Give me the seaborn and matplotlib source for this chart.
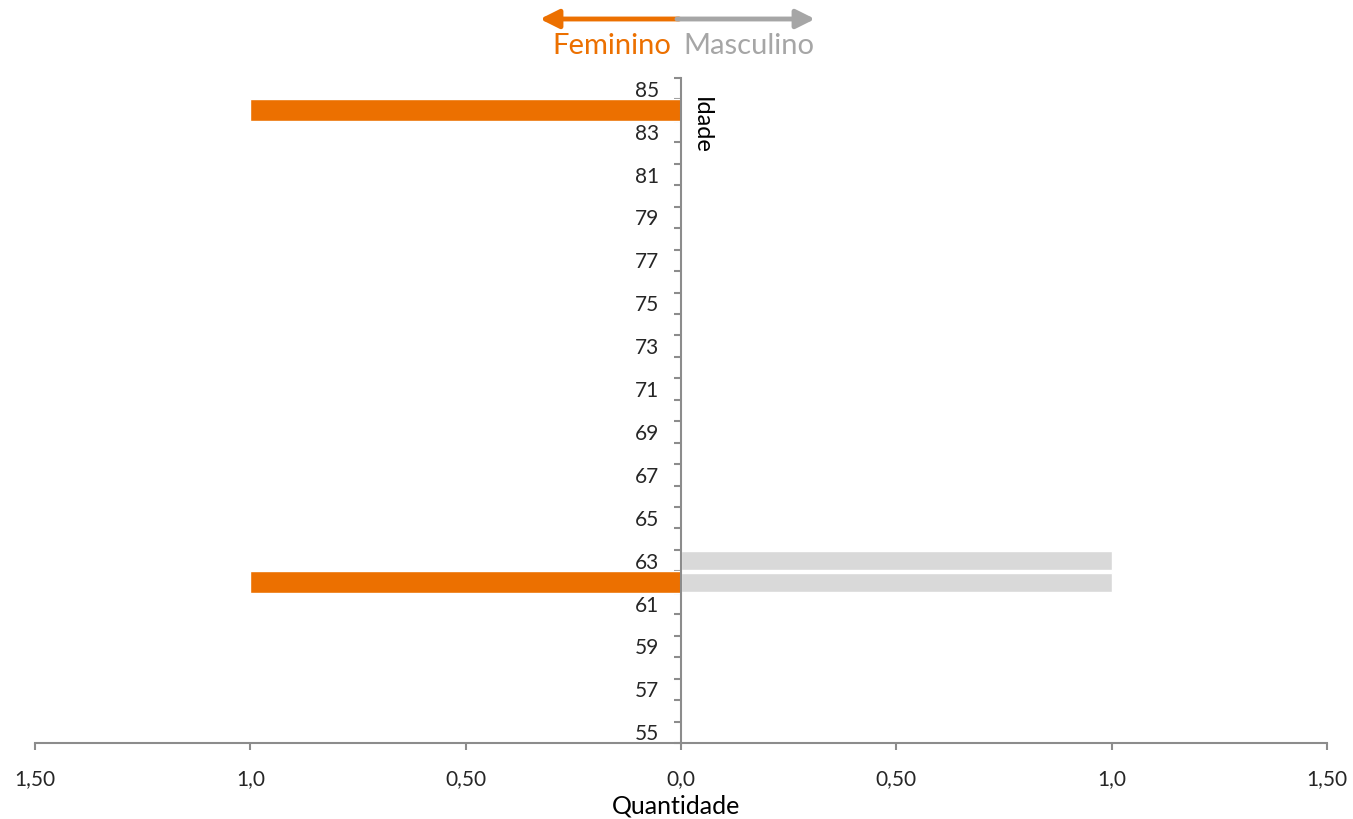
import matplotlib
matplotlib.use('Agg')
import matplotlib.pyplot as plt
import seaborn as sns
import numpy as np
from matplotlib.ticker import FixedLocator, FixedFormatter

# Data
idade = list(range(55, 86))
feminino = [0, 0, 0, 0, 0, 0, 0, 1, 0, 0, 0, 0, 0, 0, 0, 0,
            0, 0, 0, 0, 0, 0, 0, 0, 0, 0, 0, 0, 0, 1, 0]
masculino = [0, 0, 0, 0, 0, 0, 0, 1, 1, 0, 0, 0, 0, 0, 0, 0,
             0, 0, 0, 0, 0, 0, 0, 0, 0, 0, 0, 0, 0, 0, 0]
x_ticks = [-1.5, -1.0, -0.5, 0.0, 0.5, 1.0, 1.5]
x_labels = ['1,50', '1,0', '0,50', '0,0', '0,50', '1,0', '1,50']

orange = '#EC7000'
grey_bar = '#D9D9D9'
grey_axis = '#8C8C8C'
grey_text = '#A6A6A6'

sns.set_style('white')
plt.rcParams['font.family'] = ['Lato', 'DejaVu Sans']

fig = plt.figure(figsize=(13.53, 8.19), dpi=100)
ax = fig.add_axes([35 / 1353, 1 - 743 / 819, (1327 - 35) / 1353, (743 - 78) / 819])

# Bars
sns.barplot(x=[-v for v in feminino], y=idade, orient='y', native_scale=True,
            color=orange, saturation=1, width=1.0, errorbar=None, ax=ax)
sns.barplot(x=masculino, y=idade, orient='y', native_scale=True,
            color=grey_bar, saturation=1, width=0.88, errorbar=None, ax=ax)

ax.set_xlim(-1.5, 1.5)
ax.set_ylim(54.5, 85.5)

# Spines
for s in ['top', 'right']:
    ax.spines[s].set_visible(False)
ax.spines['left'].set_position(('data', 0))
for s in ['left', 'bottom']:
    ax.spines[s].set_color(grey_axis)
    ax.spines[s].set_linewidth(1.5)

# Y ticks: labels on odd ages, tick marks between categories
ax.yaxis.set_major_locator(FixedLocator(idade[::2]))
ax.yaxis.set_major_formatter(FixedFormatter([str(a) for a in idade[::2]]))
ax.yaxis.set_minor_locator(FixedLocator(np.arange(54.5, 86, 1.0)))
ax.tick_params(axis='y', which='major', length=0, pad=16, labelsize=15, labelcolor='#262626')
ax.tick_params(axis='y', which='minor', length=5, width=1.5, color=grey_axis, direction='out', left=True)

ax.xaxis.set_major_locator(FixedLocator(x_ticks))
ax.xaxis.set_major_formatter(FixedFormatter(x_labels))
ax.tick_params(axis='x', length=5, width=1.5, color=grey_axis, direction='out', bottom=True,
               pad=14, labelsize=15, labelcolor='#262626')

ax.set_xlabel('')
ax.set_ylabel('')

# Axis titles
fig.text(701 / 1353, 1 - 125 / 819, 'Idade', rotation=270, ha='center', va='center',
         fontsize=17, color='black')
fig.text(676 / 1353, 1 - 806 / 819, 'Quantidade', ha='center', va='center',
         fontsize=18, color='black')

# Legend arrows
ax.annotate('', xy=(540, 800), xytext=(679, 800), xycoords='figure pixels',
            textcoords='figure pixels',
            arrowprops=dict(arrowstyle='-|>', color=orange, lw=3.5, mutation_scale=28,
                            shrinkA=0, shrinkB=0))
ax.annotate('', xy=(815, 800), xytext=(677, 800), xycoords='figure pixels',
            textcoords='figure pixels',
            arrowprops=dict(arrowstyle='-|>', color=grey_text, lw=3.5, mutation_scale=28,
                            shrinkA=0, shrinkB=0))
fig.text(671 / 1353, 1 - 46 / 819, 'Feminino', ha='right', va='center', fontsize=21, color=orange)
fig.text(683 / 1353, 1 - 46 / 819, 'Masculino', ha='left', va='center', fontsize=21, color=grey_text)

fig.savefig('out.png', dpi=100)
